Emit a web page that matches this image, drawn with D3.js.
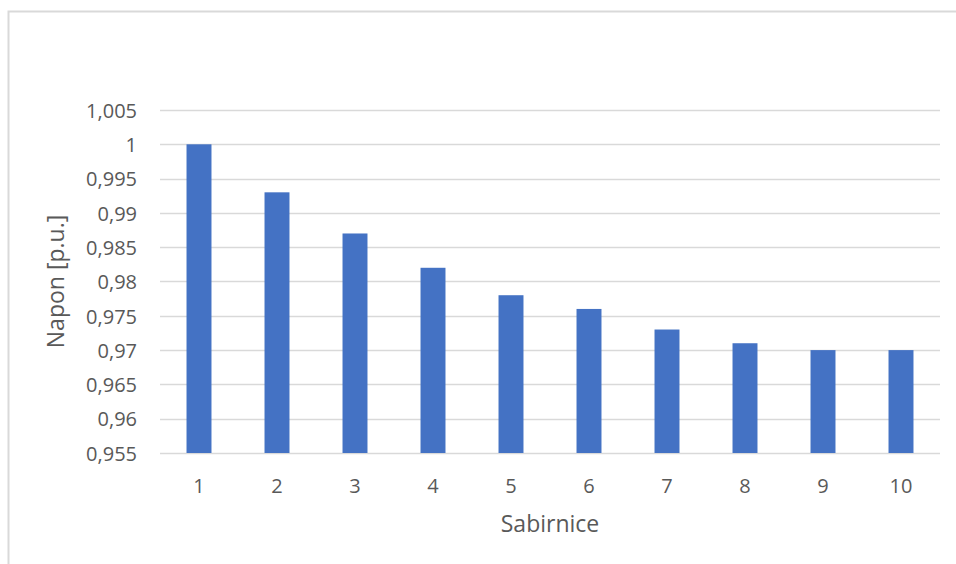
<!DOCTYPE html>
<html><head><meta charset="utf-8">
<script src="https://cdn.jsdelivr.net/npm/d3@7"></script>
<style>body{margin:0;background:#fff}svg{display:block}</style>
</head><body>
<script>
const categories = ["1","2","3","4","5","6","7","8","9","10"];
const values = [1.000, 0.993, 0.987, 0.982, 0.978, 0.976, 0.973, 0.971, 0.970, 0.970];
const yTicks = [0.955,0.96,0.965,0.97,0.975,0.98,0.985,0.99,0.995,1,1.005];
const yTitle = "Napon [p.u.]";
const xTitle = "Sabirnice";

const W = 956, H = 564;
const svg = d3.select("body").append("svg").attr("width", W).attr("height", H);
const font = "'Open Sans', 'Liberation Sans', sans-serif";

// chart border (top and left visible)
svg.append("path").attr("d", `M8.5,${H} V11.5 H${W}`).attr("fill","none").attr("stroke","#d9d9d9").attr("stroke-width",2);

const m = {l:160, r:940, t:110, b:453};
const x = d3.scaleBand().domain(categories).range([m.l, m.r]).paddingInner(0.68).paddingOuter(0.34);
const y = d3.scaleLinear().domain([0.955, 1.005]).range([m.b, m.t]);

const fmt = v => d3.format("")(+v.toFixed(3)).replace(".", ",");

// gridlines
svg.append("g").selectAll("line").data(yTicks).join("line")
  .attr("x1", m.l).attr("x2", m.r)
  .attr("y1", d => Math.round(y(d)) + 0.5).attr("y2", d => Math.round(y(d)) + 0.5)
  .attr("stroke", "#d9d9d9").attr("stroke-width", 1.5);

// y axis labels
const yAxis = d3.axisLeft(y).tickValues(yTicks).tickFormat(fmt).tickSize(0).tickPadding(0);
const gy = svg.append("g").attr("transform", `translate(${m.l-23},0)`).call(yAxis);
gy.select(".domain").remove();
gy.selectAll("text").attr("font-family", font).attr("font-size", 20).attr("fill", "#595959").attr("dy","0.36em");

// bars
svg.append("g").selectAll("rect").data(values).join("rect")
  .attr("x", (d,i) => x(categories[i]))
  .attr("width", x.bandwidth())
  .attr("y", d => y(d))
  .attr("height", d => y(0.955) - y(d))
  .attr("fill", "#4472c4");

// x axis labels
const xAxis = d3.axisBottom(x).tickSize(0).tickPadding(0);
const gx = svg.append("g").attr("transform", `translate(0,493)`).call(xAxis);
gx.select(".domain").remove();
gx.selectAll("text").attr("font-family", font).attr("font-size", 20).attr("fill", "#595959").attr("dy", "0");

// titles
svg.append("text").attr("x", (m.l+m.r)/2).attr("y", 532).attr("text-anchor","middle")
  .attr("font-family", font).attr("font-size", 23).attr("fill", "#595959").text(xTitle);
svg.append("text").attr("transform", `translate(64,${(m.t+m.b)/2}) rotate(-90)`).attr("text-anchor","middle")
  .attr("font-family", font).attr("font-size", 23).attr("fill", "#595959").text(yTitle);
</script>
</body></html>
